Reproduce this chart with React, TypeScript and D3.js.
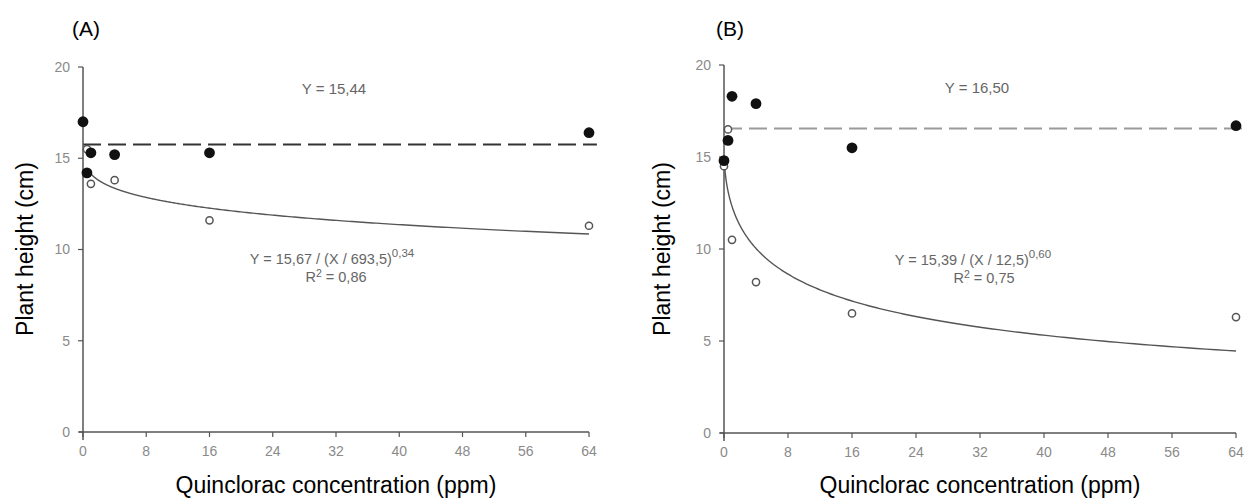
import React from 'react';
import * as d3 from 'd3';

// axis ticks shared by both panels
const xTicks = [0, 8, 16, 24, 32, 40, 48, 56, 64];
const yTicks = [0, 5, 10, 15, 20];

// panel A
const concFilledA = [0, 0.5, 1, 4, 16, 64];
const heightFilledA = [17.0, 14.2, 15.3, 15.2, 15.3, 16.4];
const concOpenA = [0.5, 1, 4, 16, 64];
const heightOpenA = [15.5, 13.6, 13.8, 11.6, 11.3];
const meanLineA = 15.75;
const fitA = { a: 15.67, c: 693.5, b: 0.34, from: 0.5 };

// panel B
const concFilledB = [0, 0.5, 1, 4, 16, 64];
const heightFilledB = [14.8, 15.9, 18.3, 17.9, 15.5, 16.7];
const concOpenB = [0, 0.5, 1, 4, 16, 64];
const heightOpenB = [14.5, 16.5, 10.5, 8.2, 6.5, 6.3];
const meanLineB = 16.55;
const fitB = { a: 15.39, c: 12.5, b: 0.55, from: 0.02 };

const FONT = '"Liberation Sans", Arial, sans-serif';

type Fit = { a: number; c: number; b: number; from: number };

const Panel = ({ label, labelX, left, right, top, bottom, yTitleX, filledX, filledY, openX, openY, mean, fit, meanText, eq, eqExp, r2, meanPos, eqPos, r2Pos, dashColor }: any) => {
  const x = d3.scaleLinear().domain([0, 64]).range([left, right]);
  const y = d3.scaleLinear().domain([0, 20]).range([bottom, top]);

  // log-logistic fit curve
  const f: Fit = fit;
  const pts = d3.range(0, 401).map((i) => {
    const cx = f.from * Math.pow(64 / f.from, i / 400);
    return [cx, f.a / (1 + Math.pow(cx / f.c, f.b))] as [number, number];
  });
  const line = d3.line<[number, number]>().x((d) => x(d[0])).y((d) => y(d[1]));

  const axisColor = '#555';
  const tickColor = '#8a8a8a';
  const noteColor = '#666';

  return (
    <g>
      <text x={labelX} y={36} fontFamily={FONT} fontSize={21} textAnchor="middle">{label}</text>

      {/* dashed mean line */}
      <line x1={x(0)} x2={x(65)} y1={y(mean)} y2={y(mean)} stroke={dashColor} strokeWidth={2} strokeDasharray="18,7" />

      {/* fit */}
      <path d={line(pts) || ''} fill="none" stroke="#555" strokeWidth={1.4} />

      {/* axes */}
      <line x1={left} x2={left} y1={top} y2={bottom + 8} stroke={axisColor} strokeWidth={1.5} />
      <line x1={left - 4} x2={right} y1={bottom} y2={bottom} stroke={axisColor} strokeWidth={1.5} />
      {yTicks.map((t) => (
        <g key={'y' + t}>
          <line x1={left - 5} x2={left} y1={y(t)} y2={y(t)} stroke={axisColor} strokeWidth={1.2} />
          <text x={left - 13} y={y(t)} dy="0.35em" textAnchor="end" fontFamily={FONT} fontSize={14} fill={tickColor}>{t}</text>
        </g>
      ))}
      {xTicks.map((t) => (
        <g key={'x' + t}>
          <line x1={x(t)} x2={x(t)} y1={bottom} y2={bottom + 5} stroke={axisColor} strokeWidth={1.2} />
          <text x={x(t)} y={bottom + 19} dy="0.35em" textAnchor="middle" fontFamily={FONT} fontSize={14} fill={tickColor}>{t}</text>
        </g>
      ))}

      {/* points */}
      {openX.map((c: number, i: number) => (
        <circle key={'o' + i} cx={x(c)} cy={y(openY[i])} r={3.6} fill="#fff" stroke="#555" strokeWidth={1.5} />
      ))}
      {filledX.map((c: number, i: number) => (
        <circle key={'f' + i} cx={x(c)} cy={y(filledY[i])} r={5.4} fill="#111" />
      ))}

      {/* annotations */}
      <text x={meanPos[0]} y={meanPos[1]} dy="0.35em" textAnchor="middle" fontFamily={FONT} fontSize={15} fill={noteColor}>{meanText}</text>
      <text x={eqPos[0]} y={eqPos[1]} dy="0.35em" textAnchor="middle" fontFamily={FONT} fontSize={14.5} fill={noteColor}>
        {eq}
        <tspan dy="-7" fontSize={11.5}>{eqExp}</tspan>
      </text>
      <text x={r2Pos[0]} y={r2Pos[1]} dy="0.35em" textAnchor="middle" fontFamily={FONT} fontSize={14.5} fill={noteColor}>
        R<tspan dy="-5" fontSize={10.5}>2</tspan><tspan dy="5">{r2}</tspan>
      </text>

      {/* titles */}
      <text x={(left + right) / 2} y={493} textAnchor="middle" fontFamily={FONT} fontSize={23}>Quinclorac concentration (ppm)</text>
      <text transform={`translate(${yTitleX},249) rotate(-90)`} textAnchor="middle" fontFamily={FONT} fontSize={23}>Plant height (cm)</text>
    </g>
  );
};

export default function App() {
  return (
    <svg width={1245} height={498} style={{ position: 'absolute', left: 0, top: 0, background: '#fff' }}>
      <Panel
        label="(A)" labelX={86} left={83} right={589} top={67} bottom={432} yTitleX={33}
        filledX={concFilledA} filledY={heightFilledA} openX={concOpenA} openY={heightOpenA}
        mean={meanLineA} fit={fitA} meanText="Y = 15,44"
        eq="Y = 15,67 / (X / 693,5)" eqExp="0,34" r2=" = 0,86"
        meanPos={[334, 89]} eqPos={[332, 259]} r2Pos={[336, 277]} dashColor="#333"
      />
      <Panel
        label="(B)" labelX={730} left={724} right={1236} top={65} bottom={433} yTitleX={670}
        filledX={concFilledB} filledY={heightFilledB} openX={concOpenB} openY={heightOpenB}
        mean={meanLineB} fit={fitB} meanText="Y = 16,50"
        eq="Y = 15,39 / (X / 12,5)" eqExp="0,60" r2=" = 0,75"
        meanPos={[977, 88]} eqPos={[973, 260]} r2Pos={[984, 278]} dashColor="#9a9a9a"
      />
    </svg>
  );
}
